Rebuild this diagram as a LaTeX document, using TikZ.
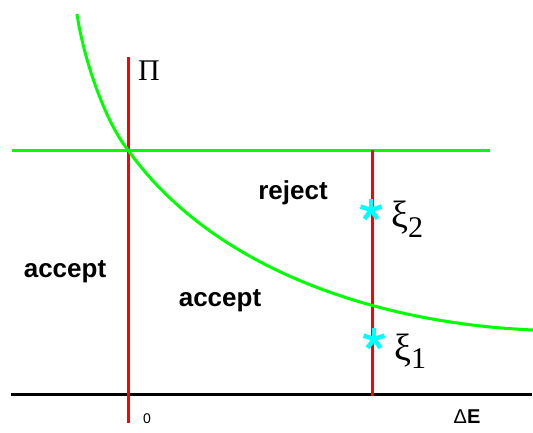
\documentclass[tikz,border=0pt]{standalone}
\usepackage{fontspec}
\setmainfont{Liberation Serif}
\setsansfont{Liberation Sans}
\definecolor{starcyan}{RGB}{0,255,255}
\definecolor{curvegreen}{RGB}{0,255,0}

\begin{document}
\begin{tikzpicture}[
  x=1pt, y=-1pt,
  redline/.style={draw=red, line width=3pt},
  greenline/.style={draw=curvegreen, line width=3pt},
  axisline/.style={draw=black, line width=3pt},
  region/.style={font=\sffamily\bfseries\fontsize{26}{30}\selectfont, inner sep=0pt, anchor=base},
  greek/.style={font=\fontsize{30}{34}\selectfont, inner sep=0pt, anchor=base west},
  tick/.style={font=\sffamily\fontsize{14}{16}\selectfont, inner sep=0pt, anchor=base},
  starmark/.style={draw=starcyan, line width=4.5pt}
]
\useasboundingbox (0,0) rectangle (533,432);

% axes and thresholds
\coordinate (axl) at (11,394);
\coordinate (axr) at (532,394);
\coordinate (pitop) at (128,57);
\coordinate (pibot) at (128,423);
\coordinate (hl) at (12,150);
\coordinate (hr) at (490,150);
\coordinate (vtop) at (372,150);
\coordinate (vbot) at (372,396);

\draw[axisline] (axl) -- (axr);
\draw[greenline] (hl) -- (hr);
\draw[redline] (pitop) -- (pibot);
\draw[redline] (vtop) -- (vbot);

% acceptance curve
\coordinate (cstart) at (77,14);
\coordinate (cmid) at (128,150);
\coordinate (cend) at (534,330);
\draw[greenline] (cstart) .. controls (83,56) and (104,120) .. (cmid)
  .. controls (215,272) and (383,324) .. (cend);

% sample points
\coordinate (xi2) at (371,210);
\coordinate (xi1) at (374,339);
\foreach \p in {xi1,xi2}
  \foreach \a in {90,18,162,234,306}
    \draw[starmark] (\p) -- ++(\a:-11);

% labels
\node[greek] (pilab) at (138,80) {Π};
\node[greek, font=\fontsize{38}{40}\selectfont] (xi2lab) at (391,227)
  {ξ\raisebox{-10pt}{\fontsize{30}{32}\selectfont 2}};
\node[greek, font=\fontsize{38}{40}\selectfont] (xi1lab) at (394,360)
  {ξ\raisebox{-8pt}{\fontsize{30}{32}\selectfont 1}};
\node[region] (rej) at (293,199) {reject};
\node[region] (accl) at (65,277) {accept};
\node[region] (accm) at (220,306) {accept};
\node[tick] (zero) at (147,423) {0};
\node[tick, font=\sffamily\fontsize{20}{22}\selectfont] (de) at (467,423) {Δ\textbf{E}};
\end{tikzpicture}
\end{document}
